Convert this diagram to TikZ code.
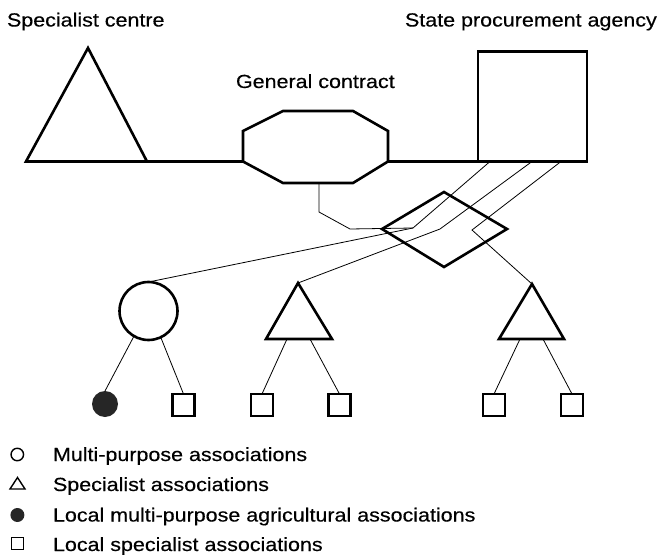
\documentclass[tikz,border=0pt]{standalone}
\usepackage{fontspec}
\setmainfont{Liberation Sans}[FakeStretch=1.13,FakeBold=0.4]
\begin{document}
\begin{tikzpicture}[x=1pt,y=-1pt,
  shp/.style={draw=black,line width=2.6pt,line join=miter},
  link/.style={draw=black,line width=0.8pt},
  lbl/.style={anchor=base west,inner sep=0pt,outer sep=0pt,font=\fontsize{19}{22}\selectfont},
  leaf/.style={draw=black,line width=2.4pt,minimum size=22pt,inner sep=0pt,outer sep=0pt},
  sym/.style={line width=1.4pt,inner sep=0pt,outer sep=0pt}]
\useasboundingbox (0,0) rectangle (661,556);

% labels
\node[lbl] (lsc) at (7,26.5) {Specialist centre};
\node[lbl] (lspa) at (405,26.5) {State procurement agency};
\node[lbl] (lgc) at (236,88) {General contract};

% specialist centre triangle
\draw[shp] (88,48) coordinate (scT) -- (147,161.5) coordinate (scR) -- (26,161.5) coordinate (scL) -- cycle;

% general contract octagon
\draw[shp] (283,111) -- (353,111) -- (388,131) -- (388,161.5) coordinate (gcR) -- (353,183) -- (283,183) -- (243,161.5) coordinate (gcL) -- (243,131) -- cycle;
\coordinate (gcB) at (319,183);

% state procurement agency square
\node[shp,minimum width=109pt,minimum height=110pt,inner sep=0pt,outer sep=0pt] (spa) at (532.5,106.5) {};
\coordinate (sq1) at (490,161.5);
\coordinate (sq2) at (532,161.5);
\coordinate (sq3) at (561,161.5);

% horizontal links
\draw[shp] (scR) -- (gcL);
\draw[shp] (gcR) -- (spa.south west);

% diamond
\draw[shp] (444,192) coordinate (dT) -- (507,229) coordinate (dR) -- (444,267) coordinate (dB) -- (382,229) coordinate (dL) -- cycle;
\coordinate (J) at (413,228);

% second level
\node[circle,draw=black,line width=2.6pt,minimum size=58pt,inner sep=0pt,outer sep=0pt] (mpa) at (148.5,311) {};
\draw[shp] (298,283) coordinate (sa1) -- (332,339) -- (266,339) -- cycle;
\draw[shp] (532,284) coordinate (sa2) -- (564,339) -- (499,339) -- cycle;

% links from agency / contract
\draw[link] (gcB) -- (319,212) -- (350,229) -- (J);
\draw[link] (sq1) -- (J) -- (mpa.north);
\draw[link] (sq2) -- (440,229) -- (sa1);
\draw[link] (sq3) -- (472,230) -- (sa2);

% third level
\node[circle,fill=black!85,minimum size=26pt,inner sep=0pt,outer sep=0pt] (lm) at (105,404) {};
\node[leaf] (s1) at (183.5,405) {};
\node[leaf] (s2) at (262,405) {};
\node[leaf] (s3) at (339.5,405) {};
\node[leaf] (s4) at (494,405) {};
\node[leaf] (s5) at (572,405) {};
\coordinate (sa1L) at (287,339);
\coordinate (sa1R) at (310,339);
\coordinate (sa2L) at (520,339);
\coordinate (sa2R) at (543,339);

\draw[link] (mpa.240) -- (lm.north);
\draw[link] (mpa.295) -- (s1.north);
\draw[link] (sa1L) -- (s2.north);
\draw[link] (sa1R) -- (s3.north);
\draw[link] (sa2L) -- (s4.north);
\draw[link] (sa2R) -- (s5.north);

% legend
\node[sym,circle,draw=black,minimum size=12.5pt] (kc) at (17.3,454.5) {};
\draw[sym,line join=miter] (17.5,477.5) coordinate (kt) -- (25,489) -- (10,489) -- cycle;
\node[sym,circle,fill=black!85,minimum size=14pt] (kf) at (17.4,515) {};
\node[sym,draw=black,minimum width=12.5pt,minimum height=12.5pt] (ks) at (17.5,543.5) {};

\node[lbl] (k1) at (53,461) {Multi-purpose associations};
\node[lbl] (k2) at (53,491) {Specialist associations};
\node[lbl] (k3) at (53,521.5) {Local multi-purpose agricultural associations};
\node[lbl] (k4) at (53,551) {Local specialist associations};
\end{tikzpicture}
\end{document}
